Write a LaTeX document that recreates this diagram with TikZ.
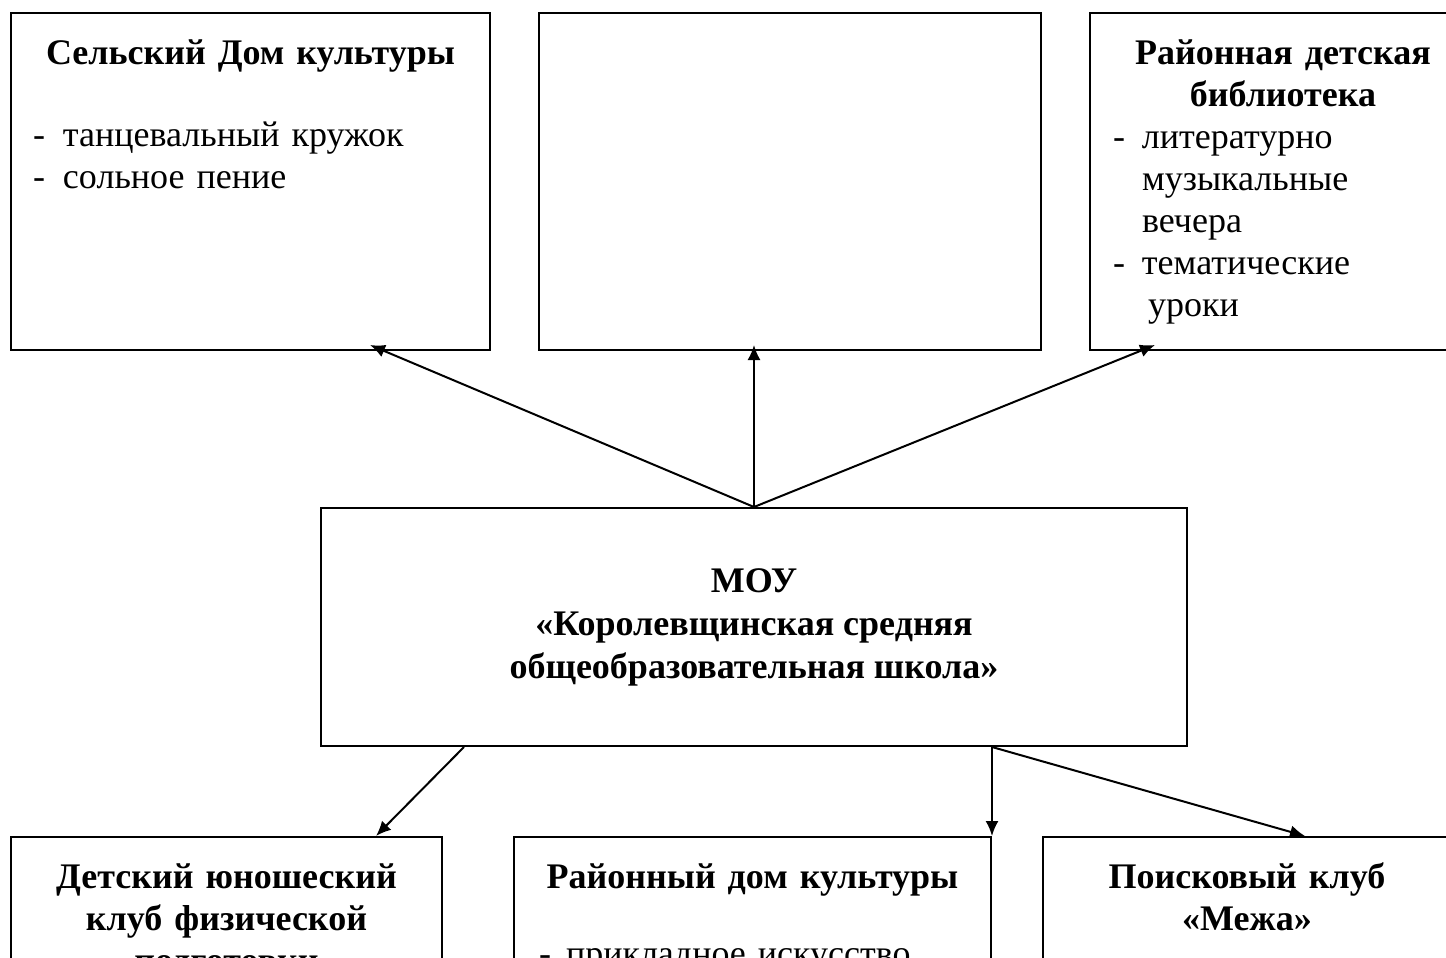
\documentclass[tikz,border=0pt]{standalone}
\usepackage{fontspec}
\setmainfont{Liberation Serif}
\usetikzlibrary{arrows.meta,calc}

\begin{document}
\begin{tikzpicture}[x=0.5pt,y=-0.5pt,font=\fontsize{18pt}{21pt}\selectfont]
\tikzstyle{box}=[draw, line width=1pt, inner sep=0pt, anchor=north west, text height=25.5pt, align=left]
\tikzstyle{glav}=[draw, line width=1pt, inner sep=0pt, align=center, font=\fontsize{18pt}{21.5pt}\selectfont\bfseries]
\tikzstyle{arr}=[line width=1pt, -{Latex[length=7.5pt,width=6.5pt]}]
\useasboundingbox (0,0) rectangle (1446,958);
\clip (0,0) rectangle (1446,958);
% верхний ряд
\node[box, text width=239.5pt, text depth=143pt] (sdk) at (10,12) {{\centering\bfseries Сельский Дом культуры\par}
\vspace{20pt}
\hspace*{11pt}\makebox[15pt][l]{-}танцевальный кружок\\
\hspace*{11pt}\makebox[15pt][l]{-}сольное пение};
\node[box, text width=251pt, text depth=143pt] (pusto) at (538,12) {};
\node[box, text width=193pt, text depth=143pt] (bib) at (1089,12) {{\centering\bfseries Районная детская\\ библиотека\par}
\hspace*{11.5pt}\makebox[14.5pt][l]{-}литературно\\
\hspace*{26pt}музыкальные\\
\hspace*{26pt}вечера\\
\hspace*{11.5pt}\makebox[14.5pt][l]{-}тематические\\
\hspace*{29pt}уроки};
% школа
\node[glav, minimum width=433pt, minimum height=119pt] (mou) at (754,627) {МОУ\\«Королевщинская средняя\\общеобразовательная школа»};
% нижний ряд
\node[box, text width=215.5pt, text depth=70pt] (dyuk) at (10,836) {{\centering\bfseries Детский юношеский\\ клуб физической\\ подготовки\par}};
\node[box, text width=238.5pt, text depth=70pt] (rdk) at (513,836) {{\centering\bfseries Районный дом культуры\par}
\vspace{17.5pt}
\hspace*{12.5pt}\makebox[13.5pt][l]{-}прикладное искусство};
\node[box, text width=204pt, text depth=70pt] (poisk) at (1042,836) {{\centering\bfseries Поисковый клуб\\ «Межа»\par}};
% связи
\draw[arr] (mou.north) -- ($(sdk.south west)+(360,-6)$);
\draw[arr] (mou.north) -- ($(mou.north |- pusto.south)+(0,-6)$);
\draw[arr] (mou.north) -- ($(bib.south west)+(66,-6)$);
\draw[arr] ($(mou.south west)+(144,0)$) -- ($(dyuk.north west)+(366,0)$);
\draw[arr] (mou.south -| rdk.north east) -- (rdk.north east);
\draw[arr] (mou.south -| rdk.north east) -- ($(poisk.north west)+(263,0)$);
\end{tikzpicture}
\end{document}
